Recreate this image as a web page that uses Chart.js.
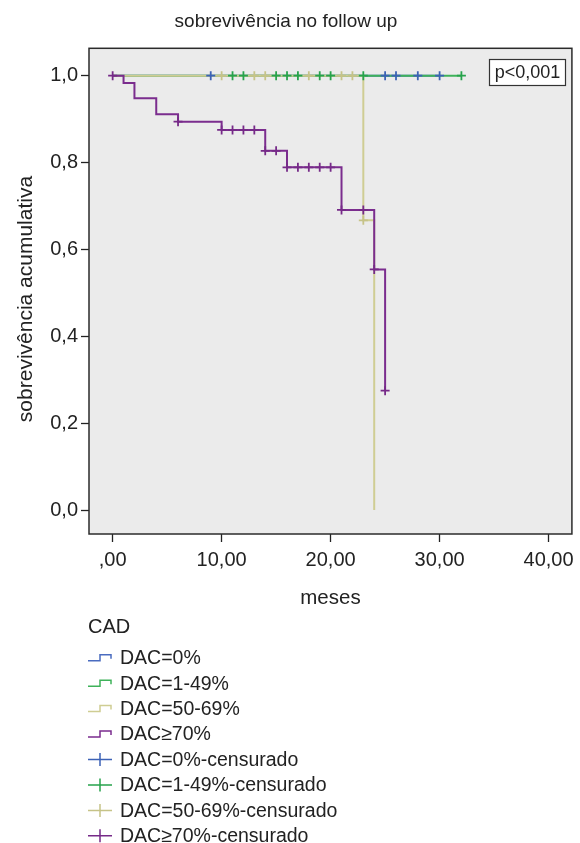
<!DOCTYPE html>
<html><head><meta charset="utf-8">
<script src="https://cdn.jsdelivr.net/npm/chart.js@4.4.1/dist/chart.umd.min.js"></script>
<style>html,body{margin:0;padding:0;background:#fff;}canvas{display:block;}</style>
</head><body>
<canvas id="c" width="580" height="843"></canvas>
<script>
// ---- data ----
const blueT = [0, 30];              const blueS = [1, 1];
const greenT = [0, 32];             const greenS = [1, 1];
const yellowT = [0, 23, 24];        const yellowS = [1, 0.667, 0];
const purpleT = [0, 1, 2, 4, 6, 10, 14, 16, 21, 24, 25];
const purpleS = [1, 0.983, 0.948, 0.911, 0.894, 0.875, 0.827, 0.789, 0.691, 0.554, 0.275];

const blueCensT = [9, 25, 26, 28, 30];
const blueCensS = [1, 1, 1, 1, 1];
const greenCensT = [11, 12, 15, 16, 17, 19, 20, 23, 32];
const greenCensS = [1, 1, 1, 1, 1, 1, 1, 1, 1];
const yellowCensT = [10, 13, 14, 18, 21, 22, 23];
const yellowCensS = [1, 1, 1, 1, 1, 1, 0.667];
const purpleCensT = [0, 6, 10, 11, 12, 13, 14, 15, 16, 17, 18, 19, 20, 21, 23, 24, 25];
const purpleCensS = [1, 0.894, 0.875, 0.875, 0.875, 0.875, 0.827, 0.827, 0.789, 0.789, 0.789, 0.789, 0.789, 0.691, 0.691, 0.554, 0.275];

const xTickValues = [0, 10, 20, 30, 40];
const xTickLabels = [",00", "10,00", "20,00", "30,00", "40,00"];
const yTickValues = [0, 0.2, 0.4, 0.6, 0.8, 1.0];
const yTickLabels = ["0,0", "0,2", "0,4", "0,6", "0,8", "1,0"];

const legendTitle = "CAD";
const legendLabels = ["DAC=0%", "DAC=1-49%", "DAC=50-69%", "DAC\u226570%",
  "DAC=0%-censurado", "DAC=1-49%-censurado", "DAC=50-69%-censurado", "DAC\u226570%-censurado"];
const pText = "p<0,001";

// ---- styles ----
const FONT = "'Liberation Sans', Arial, Helvetica, sans-serif";
const C_BLUE = '#4a6cc0', C_GREEN = '#3fb25a', C_YELLOW = '#cfcd93', C_PURPLE = '#7b2d8e';
const CM_BLUE = '#3c62b6', CM_GREEN = '#27a34c', CM_YELLOW = '#c6c388', CM_PURPLE = '#762a88';

function pts(t, s) { return t.map((v, i) => ({x: v, y: s[i]})); }

function lineDs(label, t, s, color, order) {
  return {type: 'line', label, data: pts(t, s), borderColor: color, backgroundColor: color,
    borderWidth: 2, stepped: 'before', pointRadius: 0, fill: false, order};
}
function censDs(label, t, s, color, order) {
  return {type: 'scatter', label, data: pts(t, s), borderColor: color, backgroundColor: color,
    pointStyle: 'cross', pointRadius: 4.5, pointBorderWidth: 1.8, borderWidth: 1.8, order};
}

const decor = {
  id: 'decor',
  beforeDraw(chart) {
    const {ctx, chartArea: a} = chart;
    ctx.save();
    ctx.fillStyle = '#ebebeb';
    ctx.fillRect(a.left, a.top, a.right - a.left, a.bottom - a.top);
    ctx.restore();
  },
  afterDraw(chart) {
    const {ctx, chartArea: a} = chart;
    ctx.save();
    // frame
    ctx.strokeStyle = '#2b2b2b';
    ctx.lineWidth = 1.5;
    ctx.strokeRect(a.left, a.top, a.right - a.left, a.bottom - a.top);
    // p-value box
    ctx.fillStyle = '#ffffff';
    ctx.fillRect(489.5, 59.5, 76, 26);
    ctx.lineWidth = 1.2;
    ctx.strokeStyle = '#333';
    ctx.strokeRect(489.5, 59.5, 76, 26);
    ctx.fillStyle = '#222';
    ctx.font = '18px ' + FONT;
    ctx.textAlign = 'center';
    ctx.textBaseline = 'middle';
    ctx.fillText(pText, 527.5, 73);
    // y axis title
    ctx.save();
    ctx.translate(26, 299);
    ctx.rotate(-Math.PI / 2);
    ctx.font = '21px ' + FONT;
    ctx.fillText('sobreviv\u00eancia acumulativa', 0, 0);
    ctx.restore();
    // legend
    ctx.textAlign = 'left';
    ctx.font = '20px ' + FONT;
    ctx.fillText(legendTitle, 88, 627);
    const cols = [C_BLUE, C_GREEN, C_YELLOW, C_PURPLE, CM_BLUE, CM_GREEN, CM_YELLOW, CM_PURPLE];
    ctx.font = '19.5px ' + FONT;
    legendLabels.forEach((lab, i) => {
      const cy = 657.7 + i * 25.45;
      ctx.strokeStyle = cols[i];
      ctx.lineWidth = 1.5;
      ctx.beginPath();
      if (i < 4) {
        ctx.moveTo(88, cy + 3); ctx.lineTo(100, cy + 3); ctx.lineTo(100, cy - 3);
        ctx.lineTo(111, cy - 3); ctx.lineTo(111, cy + 1);
      } else {
        ctx.moveTo(88, cy); ctx.lineTo(112, cy);
        ctx.moveTo(100, cy - 6.5); ctx.lineTo(100, cy + 6.5);
      }
      ctx.stroke();
      ctx.fillStyle = '#222';
      ctx.fillText(lab, 120, cy + 1);
    });
    ctx.restore();
  }
};

new Chart(document.getElementById('c'), {
  data: {
    datasets: [
      lineDs(legendLabels[0], blueT, blueS, C_BLUE, 8),
      lineDs(legendLabels[1], greenT, greenS, C_GREEN, 7),
      lineDs(legendLabels[2], yellowT, yellowS, C_YELLOW, 6),
      lineDs(legendLabels[3], purpleT, purpleS, C_PURPLE, 5),
      censDs(legendLabels[4], blueCensT, blueCensS, CM_BLUE, 4),
      censDs(legendLabels[5], greenCensT, greenCensS, CM_GREEN, 3),
      censDs(legendLabels[6], yellowCensT, yellowCensS, CM_YELLOW, 2),
      censDs(legendLabels[7], purpleCensT, purpleCensS, CM_PURPLE, 1)
    ]
  },
  options: {
    responsive: false,
    animation: false,
    layout: {padding: {left: 0, right: 8, top: 0, bottom: 229}},
    plugins: {
      legend: {display: false},
      tooltip: {enabled: false},
      title: {display: true, text: 'sobreviv\u00eancia no follow up', color: '#222',
        font: {size: 19, family: FONT, weight: 'normal'}, padding: {top: 10, bottom: 15.5}}
    },
    scales: {
      x: {
        type: 'linear', min: -2.17, max: 42.14,
        afterFit(s) { s.height = 80; },
        afterBuildTicks(s) { s.ticks = xTickValues.map(v => ({value: v})); },
        grid: {drawOnChartArea: false, drawTicks: true, tickLength: 8, tickColor: '#222', tickWidth: 1.3},
        border: {display: false},
        ticks: {color: '#222', padding: 6, font: {size: 20, family: FONT}, maxRotation: 0,
          callback: (v) => { const i = xTickValues.indexOf(v); return i >= 0 ? xTickLabels[i] : ''; }},
        title: {display: true, text: 'meses', color: '#222', font: {size: 20.5, family: FONT},
          padding: {top: 0, bottom: 3}}
      },
      y: {
        type: 'linear', min: -0.055, max: 1.063,
        afterFit(s) { s.width = 89; },
        afterBuildTicks(s) { s.ticks = yTickValues.map(v => ({value: v})); },
        grid: {drawOnChartArea: false, drawTicks: true, tickLength: 8, tickColor: '#222', tickWidth: 1.3},
        border: {display: false},
        ticks: {color: '#222', padding: 3, font: {size: 20, family: FONT},
          callback: (v) => { const i = yTickValues.findIndex(t => Math.abs(t - v) < 1e-9); return i >= 0 ? yTickLabels[i] : ''; }}
      }
    }
  },
  plugins: [decor]
});
</script></body></html>
